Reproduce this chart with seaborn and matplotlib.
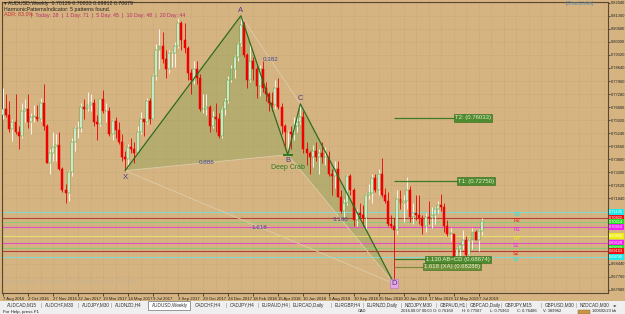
import numpy as np
import pandas as pd
import seaborn as sns
import matplotlib.pyplot as plt
from matplotlib.patches import Rectangle

# AUDUSD weekly bars, 7 Aug 2016 .. 14 Jul 2019 (open of each bar = previous close)
first_open = 0.7617
highs = [0.7759, 0.7730, 0.7690, 0.7600, 0.7730, 0.7560, 0.7680, 0.7700, 0.7730, 0.7630,
         0.7670, 0.7670, 0.7710, 0.7778, 0.7570, 0.7440, 0.7530, 0.7520, 0.7530, 0.7350,
         0.7260, 0.7330, 0.7500, 0.7560, 0.7590, 0.7680, 0.7700, 0.7740, 0.7730, 0.7700,
         0.7620, 0.7710, 0.7750, 0.7680, 0.7660, 0.7600, 0.7610, 0.7580, 0.7520, 0.7430,
         0.7470, 0.7500, 0.7480, 0.7560, 0.7635, 0.7600, 0.7710, 0.7710, 0.7830, 0.7990,
         0.8065, 0.8050, 0.7960, 0.7960, 0.7950, 0.8000, 0.8125, 0.8110, 0.8100, 0.7980,
         0.7860, 0.7900, 0.7900, 0.7830, 0.7730, 0.7730, 0.7670, 0.7640, 0.7680, 0.7630,
         0.7660, 0.7710, 0.7820, 0.7880, 0.7930, 0.8000, 0.8136, 0.8110, 0.7940, 0.7990,
         0.7920, 0.7880, 0.7880, 0.7900, 0.7790, 0.7740, 0.7740, 0.7800, 0.7810, 0.7680,
         0.7570, 0.7540, 0.7560, 0.7610, 0.7620, 0.7677, 0.7640, 0.7480, 0.7430, 0.7460,
         0.7480, 0.7440, 0.7480, 0.7450, 0.7430, 0.7340, 0.7380, 0.7380, 0.7230, 0.7180,
         0.7310, 0.7310, 0.7240, 0.7130, 0.7160, 0.7150, 0.7210, 0.7260, 0.7310, 0.7310,
         0.7340, 0.7394, 0.7240, 0.7220, 0.7100, 0.7080, 0.7230, 0.7230, 0.7200, 0.7296,
         0.7250, 0.7160, 0.7200, 0.7200, 0.7100, 0.7110, 0.7170, 0.7140, 0.7140, 0.7170,
         0.7206, 0.7160, 0.7070, 0.7030, 0.7000, 0.6930, 0.6940, 0.7020, 0.6990, 0.6980,
         0.7030, 0.7020, 0.7025, 0.70833]
lows = [0.7596, 0.7610, 0.7530, 0.7485, 0.7520, 0.7440, 0.7500, 0.7580, 0.7550, 0.7520,
        0.7580, 0.7590, 0.7590, 0.7540, 0.7370, 0.7310, 0.7380, 0.7380, 0.7330, 0.7220,
        0.7160, 0.7170, 0.7300, 0.7430, 0.7500, 0.7530, 0.7600, 0.7640, 0.7640, 0.7560,
        0.7490, 0.7560, 0.7630, 0.7580, 0.7510, 0.7490, 0.7500, 0.7470, 0.7380, 0.7329,
        0.7350, 0.7420, 0.7370, 0.7420, 0.7520, 0.7510, 0.7570, 0.7570, 0.7600, 0.7800,
        0.7860, 0.7890, 0.7810, 0.7840, 0.7870, 0.7870, 0.7970, 0.7960, 0.7940, 0.7800,
        0.7730, 0.7780, 0.7780, 0.7640, 0.7630, 0.7620, 0.7530, 0.7550, 0.7530, 0.7500,
        0.7500, 0.7620, 0.7680, 0.7790, 0.7810, 0.7900, 0.7980, 0.7920, 0.7760, 0.7790,
        0.7800, 0.7710, 0.7720, 0.7740, 0.7690, 0.7640, 0.7640, 0.7650, 0.7650, 0.7520,
        0.7440, 0.7412, 0.7440, 0.7490, 0.7530, 0.7570, 0.7420, 0.7360, 0.7310, 0.7350,
        0.7380, 0.7310, 0.7370, 0.7360, 0.7300, 0.7200, 0.7240, 0.7190, 0.7110, 0.7085,
        0.7150, 0.7200, 0.7040, 0.7040, 0.7080, 0.7040, 0.7020, 0.7180, 0.7160, 0.7220,
        0.7200, 0.7190, 0.7160, 0.7040, 0.7030, 0.6740, 0.7000, 0.7130, 0.7060, 0.7130,
        0.7060, 0.7050, 0.7070, 0.7050, 0.7000, 0.7010, 0.7050, 0.7030, 0.7050, 0.7110,
        0.7120, 0.7010, 0.6990, 0.6960, 0.6870, 0.6860, 0.6860, 0.6920, 0.6880, 0.6830,
        0.6920, 0.6970, 0.6910, 0.69912]
closes = [0.7649, 0.7620, 0.7545, 0.7585, 0.7530, 0.7510, 0.7640, 0.7650, 0.7580, 0.7610,
          0.7610, 0.7600, 0.7680, 0.7560, 0.7370, 0.7420, 0.7450, 0.7460, 0.7340, 0.7230,
          0.7210, 0.7320, 0.7480, 0.7550, 0.7550, 0.7660, 0.7650, 0.7670, 0.7680, 0.7580,
          0.7570, 0.7700, 0.7640, 0.7640, 0.7520, 0.7590, 0.7540, 0.7480, 0.7400, 0.7390,
          0.7450, 0.7440, 0.7420, 0.7530, 0.7600, 0.7580, 0.7690, 0.7600, 0.7820, 0.7960,
          0.7980, 0.7910, 0.7860, 0.7940, 0.7940, 0.7980, 0.8100, 0.8010, 0.7970, 0.7840,
          0.7800, 0.7860, 0.7810, 0.7650, 0.7650, 0.7660, 0.7560, 0.7610, 0.7600, 0.7510,
          0.7650, 0.7690, 0.7800, 0.7860, 0.7920, 0.7990, 0.8090, 0.7930, 0.7800, 0.7900,
          0.7860, 0.7770, 0.7860, 0.7760, 0.7730, 0.7680, 0.7670, 0.7760, 0.7660, 0.7560,
          0.7530, 0.7530, 0.7520, 0.7560, 0.7580, 0.7610, 0.7440, 0.7420, 0.7400, 0.7430,
          0.7400, 0.7420, 0.7400, 0.7400, 0.7310, 0.7300, 0.7340, 0.7190, 0.7120, 0.7160,
          0.7300, 0.7230, 0.7070, 0.7110, 0.7100, 0.7080, 0.7200, 0.7210, 0.7290, 0.7230,
          0.7310, 0.7200, 0.7170, 0.7050, 0.7040, 0.7020, 0.7180, 0.7160, 0.7170, 0.7230,
          0.7090, 0.7110, 0.7100, 0.7080, 0.7040, 0.7090, 0.7080, 0.7100, 0.7130, 0.7150,
          0.7140, 0.7040, 0.7000, 0.7000, 0.6880, 0.6920, 0.6940, 0.6970, 0.6890, 0.6970,
          0.7010, 0.6970, 0.70129, 0.70679]

date_labels = ["7 Aug 2016", "2 Oct 2016", "27 Nov 2016", "22 Jan 2017", "19 Mar 2017",
               "14 May 2017", "9 Jul 2017", "3 Sep 2017", "29 Oct 2017", "24 Dec 2017",
               "18 Feb 2018", "15 Apr 2018", "10 Jun 2018", "5 Aug 2018", "30 Sep 2018",
               "25 Nov 2018", "20 Jan 2019", "17 Mar 2019", "12 May 2019", "7 Jul 2019"]
price_ticks = [0.67080, 0.67760, 0.68440, 0.69120, 0.69800, 0.70480, 0.71160, 0.71840,
               0.72520, 0.73200, 0.73880, 0.74560, 0.75240, 0.75920, 0.76600, 0.77280,
               0.77960, 0.78640, 0.79320, 0.80000, 0.80680, 0.81360, 0.82040]

# harmonic pattern (Deep Crab)
pattern_names = ["X", "A", "B", "C", "D"]
pattern_bars = [39, 76, 91, 95, 125]
pattern_prices = [0.7329, 0.8136, 0.7412, 0.7677, 0.6740]
ratio_pairs = [(0, 2), (1, 3), (2, 4), (0, 4)]
ratio_labels = ["0.886", "0.382", "3.160", "1.618"]

target_labels = ["T2: (0.76033)", "T1: (0.72750)", "1.130 AB=CD (0.68674)", "1.618 (XA) (0.68288)"]
target_prices = [0.76033, 0.72750, 0.68674, 0.68288]

pivot_prices = [0.71135, 0.70822, 0.70614, 0.70353, 0.69884, 0.69520, 0.69259, 0.69103, 0.68790]
pivot_names = ["R3", "R2", "", "R1", "PP", "S1", "", "S2", "S3"]
pivot_line_colors = ["#86D8CC", "#B0403A", "#8CC878", "#E050C0", "#E8DC70",
                     "#E050C0", "#8CC878", "#B0403A", "#86D8CC"]
pivot_box_colors = ["#20E8E8", "#F01010", "#20E020", "#F020F0", "#F0F010",
                    "#F020F0", "#20E020", "#F01010", "#20E8E8"]

tabs = ["AUDCAD,M15", "AUDCHF,M30", "AUDJPY,M30", "AUDNZD,H4", "AUDUSD,Weekly", "CADCHF,H4",
        "CADJPY,H4", "EURAUD,H4", "EURCAD,Daily", "EURGBP,H4", "EURNZD,Daily", "NZDJPY,M30",
        "GBPAUD,H1", "GBPCAD,Daily", "GBPJPY,M15", "GBPUSD,M30", "NZDCAD,M30"]
tab_x = [7, 45, 82, 115, 152, 195, 230, 262, 293, 335, 367, 405, 440, 470, 505, 545, 580]

# ---------------------------------------------------------------
sns.set_theme(style="white")
plt.rcParams['font.family'] = ['Liberation Sans', 'DejaVu Sans']

BG = "#D5B482"
W, H = 625, 314
fig = plt.figure(figsize=(6.25, 3.14), dpi=100, facecolor=BG)
ax = fig.add_axes([2 / W, 1 - 293 / H, 606 / W, 291 / H])
ax.set_facecolor(BG)


def px(x, y):
    return x / W, 1 - y / H


opens = [first_open] + closes[:-1]
df = pd.DataFrame({"bar": np.arange(len(closes)), "open": opens, "high": highs,
                   "low": lows, "close": closes})
df["up"] = df["close"] >= df["open"]
up = df[df.up]
dn = df[~df.up]

ax.set_xlim(-0.32, 193.3)
ax.set_ylim(0.66915, 0.82076)

# grid
ax.set_yticks(price_ticks)
ax.set_xticks(np.arange(0, 153, 8))
ax.set_xticks(np.arange(0, 194, 4), minor=True)
ax.grid(True, which="both", color="#BE9E70", lw=0.5, ls=(0, (1, 2)))
ax.set_axisbelow(True)

# pattern fill
pat = pd.DataFrame({"bar": pattern_bars, "price": pattern_prices, "name": pattern_names})
ax.fill(pat.bar[:3], pat.price[:3], color="#86A050", alpha=0.38, lw=0, zorder=1)
ax.fill(pat.bar[2:5], pat.price[2:5], color="#86A050", alpha=0.38, lw=0, zorder=1)

# pivot lines
for p, c in zip(pivot_prices, pivot_line_colors):
    ax.axhline(p, color=c, lw=0.8, zorder=2)

# candles
ax.vlines(up.bar, up.low, up.high, color="white", lw=0.6, zorder=3)
ax.vlines(dn.bar, dn.low, dn.high, color="#E80000", lw=0.6, zorder=3)
ax.bar(up.bar, (up.close - up.open).clip(lower=0.0002), bottom=up.open, width=0.62,
       color="white", edgecolor="#22A022", lw=0.35, zorder=4)
ax.bar(dn.bar, (dn.open - dn.close).clip(lower=0.0002), bottom=dn.close, width=0.62,
       color="#F00000", edgecolor="#F00000", lw=0.35, zorder=4)

# faint ratio lines + labels
for (a, b), lab in zip(ratio_pairs, ratio_labels):
    xa, xb = pat.bar[a], pat.bar[b]
    ya, yb = pat.price[a], pat.price[b]
    ax.plot([xa, xb], [ya, yb], color="#DCCCA8", lw=0.6, zorder=5)
    ax.text((xa + xb) / 2, (ya + yb) / 2, lab, fontsize=4.5, color="#4A4A9A",
            ha="center", va="center", zorder=7)

# pattern legs
sns.lineplot(data=pat, x="bar", y="price", sort=False, color="#2F6B1F", lw=0.9,
             ax=ax, zorder=6)
ax.hlines(pat.price[2], pat.bar[2] - 1.6, pat.bar[2] + 1.6, color="#2F7B1F", lw=1.4, zorder=6)

offs = {"X": (0, -5), "A": (0, 4), "B": (0, -4), "C": (0, 4), "D": (0, 0)}
for _, r in pat.iterrows():
    dx, dy = offs[r["name"]]
    kw = {}
    if r["name"] == "D":
        kw["bbox"] = dict(boxstyle="square,pad=0.15", fc="#E6A6E0", ec="#C070C0", lw=0.4)
    ax.annotate(r["name"], (r.bar, r.price), xytext=(dx, dy), textcoords="offset points",
                ha="center", va="center", fontsize=5.5, color="#4A3C8C", zorder=8, **kw)
ax.annotate("Deep Crab", (pat.bar[2], pat.price[2]), xytext=(0, -9), textcoords="offset points",
            ha="center", va="center", fontsize=5, color="#2E7A22", zorder=8)

# targets
t_start = pattern_bars[4]
t_ends = [144.4, 145.3, 135.3, 134.6]
t_colors = ["#3C7A28", "#3C7A28", "#3C7A28", "#7E8A3A"]
t_box = ["#4E8A2E", "#4E8A2E", "#4E8A2E", "#6E9038"]
for lab, p, e, lc, bc in zip(target_labels, target_prices, t_ends, t_colors, t_box):
    ax.hlines(p, t_start, e, color=lc, lw=0.9, zorder=6)
    ax.text(e, p, lab, fontsize=4.3, color="#EAF2D6", ha="left", va="center", zorder=8,
            bbox=dict(boxstyle="square,pad=0.2", fc=bc, ec="#2E6A1E", lw=0.4))

# pivot labels
for n, p, c in zip(pivot_names, pivot_prices, pivot_box_colors):
    if n:
        ax.text(163, p - 0.0011, n, fontsize=3.8, color=c, ha="left", va="center", zorder=8)

# axes styling
for s in ax.spines.values():
    s.set_color("#5A4632")
    s.set_linewidth(0.8)
ax.yaxis.tick_right()
hidden = {0.71160, 0.70480, 0.69800, 0.69120}
ax.set_yticklabels(["" if t in hidden else f"{t:.5f}" for t in price_ticks])
ax.set_xticklabels(date_labels, ha="left")
ax.tick_params(axis="y", which="both", right=True, length=1.2, width=0.5, pad=0.6,
               labelsize=2.9, colors="#202020")
ax.tick_params(axis="x", which="major", bottom=True, length=2, width=0.5, pad=1,
               labelsize=3.1, colors="#202020")
ax.tick_params(axis="x", which="minor", bottom=False)
ax.set_xlabel("")
ax.set_ylabel("")

# price boxes on the right axis
for p, c in zip(pivot_prices, pivot_box_colors):
    ax.text(1.0022, p, f"{p:.5f}", transform=ax.get_yaxis_transform(), fontsize=2.8,
            color="white", ha="left", va="center", clip_on=False, zorder=9,
            bbox=dict(boxstyle="square,pad=0.15", fc=c, ec="none"))

# header texts
fig.text(*px(4, 4), "\u25be AUDUSD,Weekly  0.70129 0.70833 0.69912 0.70679",
         fontsize=3.8, color="#202020", va="center")
fig.text(*px(4, 9.5), "HarmonicPatternsIndicator: 5 patterns found.",
         fontsize=3.8, color="#202020", va="center")
fig.text(*px(4, 15), "ADR: 83.0%", fontsize=3.8, color="#C03030", va="center")
fig.text(*px(31, 15), "|  Today: 28  |  1 Day: 71  |  5 Day: 45  |  10 Day: 48  |  20 Day: 44",
         fontsize=3.8, color="#B8306A", va="center")
fig.text(*px(566, 4), "[ChartLinks]", fontsize=3.8, color="#5A8AB0", va="center")
fig.text(*px(3, 283), "Harmonic Pattern Collection 18.09.10", fontsize=5.8,
         color="#C6B293", va="center")

# tab bar + status bar
fig.add_artist(Rectangle((0, 0), 1, 13 / H, transform=fig.transFigure,
                         fc="#EFEFEF", ec="none", zorder=0))
fig.add_artist(Rectangle((0, 5 / H), 1, 0.4 / H, transform=fig.transFigure,
                         fc="#B0B0B0", ec="none", zorder=1))
fig.add_artist(Rectangle(px(148, 309.5), 42 / W, 8.5 / H, transform=fig.transFigure,
                         fc="white", ec="#707070", lw=0.5, zorder=2))
for t, x in zip(tabs, tab_x):
    fig.text(*px(x, 305), t, fontsize=3.3, color="#303030", va="center", zorder=3)
for i in range(1, len(tab_x)):
    if i not in (4, 5):
        fig.text(*px(tab_x[i] - 3.5, 305), "|", fontsize=3.3, color="#808080", va="center",
                 ha="center")
fig.text(*px(613, 305), "\u25c2\u25b8", fontsize=3.2, color="#303030", va="center")
fig.text(*px(3, 311.5), "For Help, press F1", fontsize=3.2, color="#202020", va="center")
status = [(358, "CAD"), (401, "2016.08.07 00:00"), (433, "O: 0.76169"), (462, "H: 0.77587"),
          (490, "L: 0.75963"), (517, "C: 0.76486"), (543, "V: 389962"), (592, "100692/23 kb")]
for x, t in status:
    fig.text(*px(x, 311.5), t, fontsize=2.9, color="#202020", va="center")
fig.add_artist(Rectangle(px(578, 313.5), 12 / W, 4 / H, transform=fig.transFigure,
                         fc="#C89848", ec="#806030", lw=0.3, zorder=2))

fig.savefig("out.png", dpi=100, facecolor=BG)
